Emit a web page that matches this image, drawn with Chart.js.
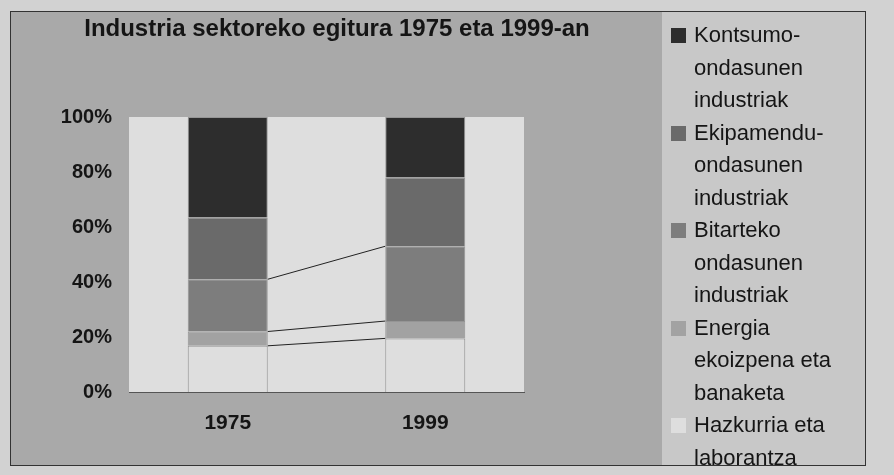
<!DOCTYPE html>
<html>
<head>
<meta charset="utf-8">
<script src="https://cdn.jsdelivr.net/npm/chart.js@4/dist/chart.umd.min.js"></script>
<style>
  html, body { margin: 0; padding: 0; background: #d2d2d2; }
  #wrap { position: relative; width: 894px; height: 475px; overflow: hidden; }
  #c { position: absolute; left: 0; top: 0; }
  #title { position: absolute; left: 0; top: 13px; width: 674px; text-align: center; white-space: nowrap;
           font-family: "Liberation Sans", Arial, sans-serif; font-weight: bold; font-size: 24px; line-height: 30px; color: #151515; }
  #legend { position: absolute; left: 668px; top: 19px; width: 196px; height: 447px; overflow: hidden;
            font-family: "Liberation Sans", Arial, sans-serif; font-size: 22px; line-height: 32.5px; color: #151515; }
  .item { position: relative; padding-left: 26px; width: 168px; }
  .mk { position: absolute; left: 3px; top: 9px; width: 15px; height: 15px; }
</style>
</head>
<body>
<div id="wrap">
  <canvas id="c" width="894" height="475"></canvas>
  <div id="title"></div>
  <div id="legend"></div>
</div>
<script>
// ---- data ----
const categories = ['1975', '1999'];
const seriesNames = [
  'Hazkurria eta laborantza',
  'Energia ekoizpena eta banaketa',
  'Bitarteko ondasunen industriak',
  'Ekipamendu-ondasunen industriak',
  'Kontsumo-ondasunen industriak'
];
const hazkurria  = [16.8, 19.5];
const energia    = [5.2, 6.3];
const bitarteko  = [19.0, 27.2];
const ekipamendu = [22.5, 25.0];
const kontsumo   = [36.5, 22.0];
const yTicks = [0, 20, 40, 60, 80, 100];
const titleText = 'Industria sektoreko egitura 1975 eta 1999-an';

const seriesValues = [hazkurria, energia, bitarteko, ekipamendu, kontsumo];
const seriesColors = ['#dedede', '#a2a2a2', '#7d7d7d', '#6a6a6a', '#2d2d2d'];
const seriesLineIdx = [0, 1, 2];
const FONT = "'Liberation Sans', Arial, sans-serif";

document.getElementById('title').textContent = titleText;

const bgPlugin = {
  id: 'bg',
  beforeDraw(chart) {
    const ctx = chart.ctx;
    ctx.save();
    ctx.fillStyle = '#d2d2d2';
    ctx.fillRect(0, 0, 894, 475);
    ctx.fillStyle = '#a9a9a9';
    ctx.fillRect(10, 11, 856, 455);
    ctx.fillStyle = '#c8c8c8';
    ctx.fillRect(662, 11, 204, 455);
    ctx.strokeStyle = '#333';
    ctx.lineWidth = 1;
    ctx.strokeRect(10.5, 11.5, 855, 454);
    const a = chart.chartArea;
    ctx.fillStyle = '#dedede';
    ctx.fillRect(a.left, a.top, a.right - a.left, a.bottom - a.top);
    ctx.restore();
  }
};

const seriesLines = {
  id: 'serieslines',
  afterDatasetsDraw(chart) {
    const ctx = chart.ctx;
    ctx.save();
    ctx.strokeStyle = '#222';
    ctx.lineWidth = 1;
    seriesLineIdx.forEach(i => {
      const d = chart.getDatasetMeta(i).data;
      for (let k = 0; k < d.length - 1; k++) {
        const a = d[k], b = d[k + 1];
        ctx.beginPath();
        ctx.moveTo(a.x + a.width / 2, a.y);
        ctx.lineTo(b.x - b.width / 2, b.y);
        ctx.stroke();
      }
    });
    ctx.restore();
  }
};

new Chart(document.getElementById('c'), {
  type: 'bar',
  data: {
    labels: categories,
    datasets: seriesValues.map((v, i) => ({
      label: seriesNames[i],
      data: v,
      backgroundColor: seriesColors[i],
      borderColor: 'rgba(60,60,60,0.45)',
      borderWidth: 1,
      barPercentage: 0.405,
      categoryPercentage: 1
    }))
  },
  options: {
    responsive: false,
    animation: false,
    layout: { padding: { left: 0, right: 370, top: 117, bottom: 0 } },
    plugins: {
      legend: { display: false },
      tooltip: { enabled: false },
      title: { display: false }
    },
    scales: {
      x: {
        stacked: true,
        grid: { display: false, drawTicks: false },
        border: { display: true, color: '#555', width: 1, dash: [2, 1] },
        ticks: { color: '#151515', padding: 19, font: { family: FONT, size: 21, weight: 'bold' } },
        afterFit(s) { s.height = 83; }
      },
      y: {
        stacked: true,
        min: 0, max: 100,
        afterBuildTicks(s) { s.ticks = yTicks.map(v => ({ value: v })); },
        grid: { display: false, drawTicks: false },
        border: { display: false },
        ticks: { color: '#151515', padding: 17, font: { family: FONT, size: 20, weight: 'bold' },
                 callback: v => v + '%' },
        afterFit(s) { s.width = 129; }
      }
    }
  },
  plugins: [bgPlugin, seriesLines]
});

// HTML legend (reverse order like the original)
const lg = document.getElementById('legend');
for (let i = seriesNames.length - 1; i >= 0; i--) {
  const it = document.createElement('div');
  it.className = 'item';
  const mk = document.createElement('span');
  mk.className = 'mk';
  mk.style.background = seriesColors[i];
  it.appendChild(mk);
  it.appendChild(document.createTextNode(seriesNames[i]));
  lg.appendChild(it);
}
</script>
</body>
</html>
